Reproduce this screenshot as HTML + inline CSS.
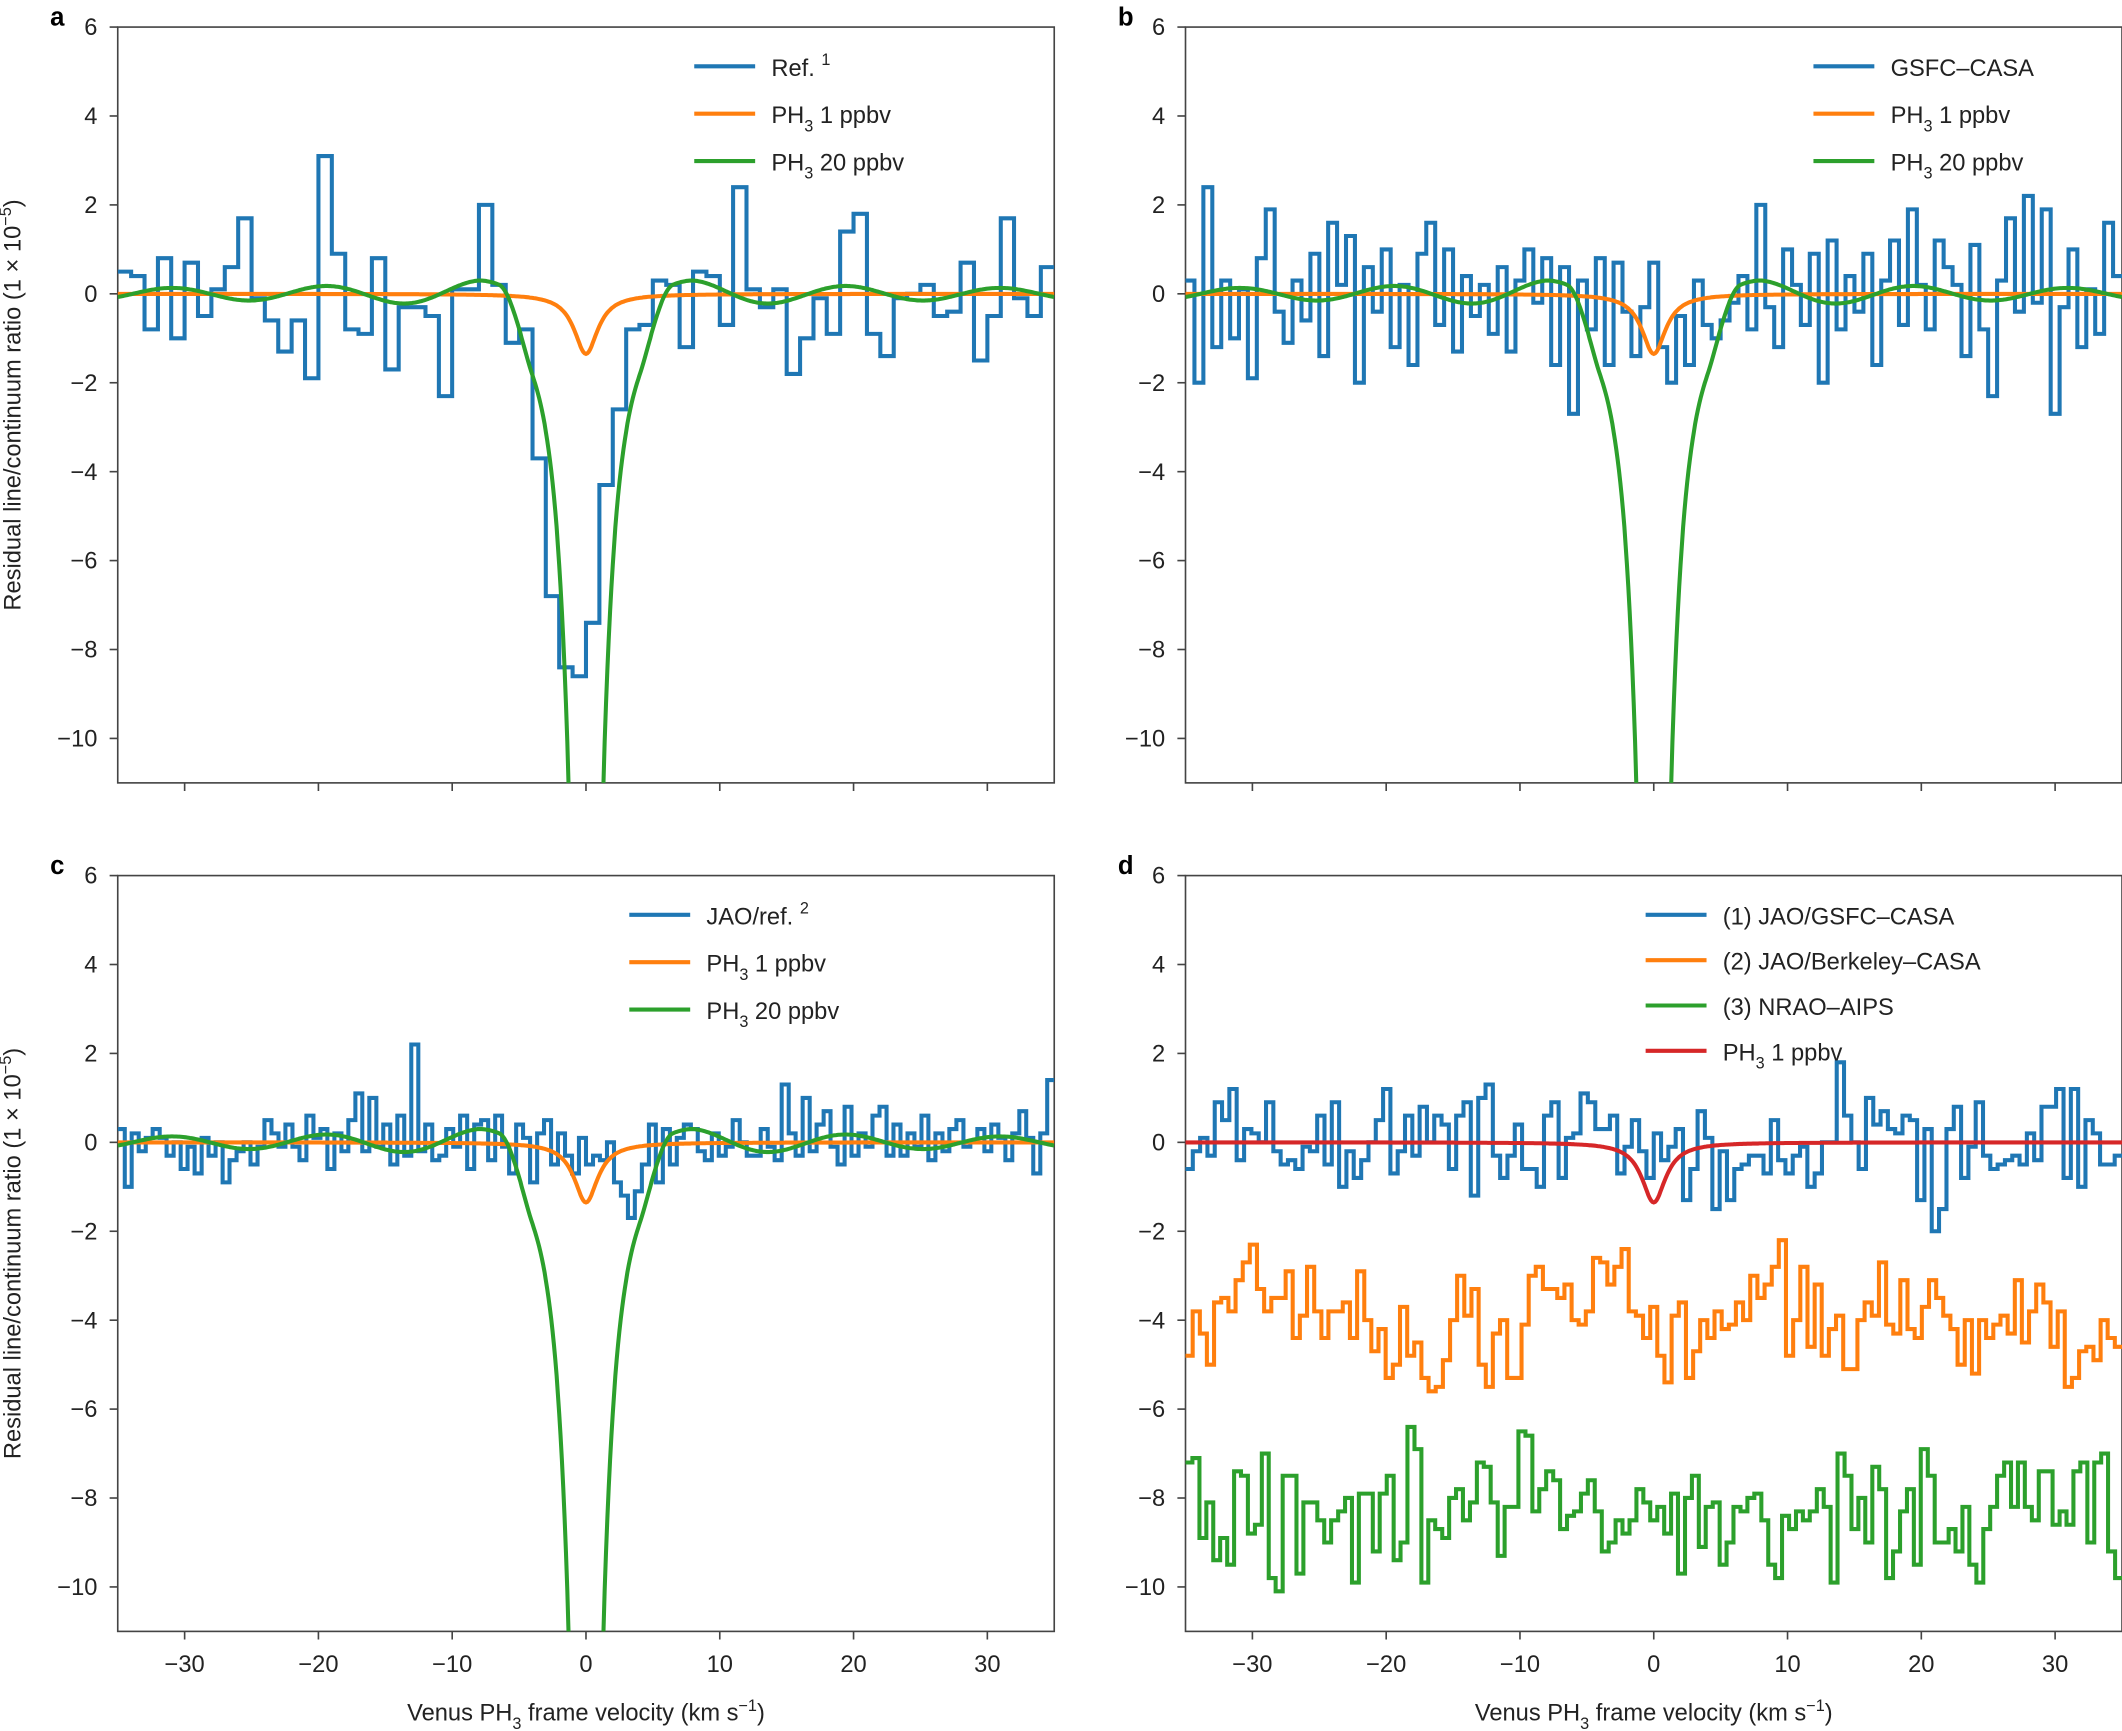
<!DOCTYPE html>
<html><head><meta charset="utf-8"><style>
html,body{margin:0;padding:0;background:#fff;}
svg{display:block;font-family:"Liberation Sans",Arial,sans-serif;}
</style></head><body>
<svg id="chart" width="2122" height="1731" viewBox="0 0 1568 1279.1" preserveAspectRatio="none" xmlns="http://www.w3.org/2000/svg"></svg>
<script>
// ---- data (km/s bins; residual line/continuum ratio ×1e-5) ----
const xTicks=[-30,-20,-10,0,10,20,30];
const yTicks=[6,4,2,0,-2,-4,-6,-8,-10];
const seriesA=[0.5,0.4,-0.8,0.8,-1.0,0.7,-0.5,0.1,0.6,1.7,-0.1,-0.6,-1.3,-0.6,-1.9,3.1,0.9,-0.8,-0.9,0.8,-1.7,-0.3,-0.3,-0.5,-2.3,0.1,0.1,2.0,0.2,-1.1,-0.8,-3.7,-6.8,-8.4,-8.6,-7.4,-4.3,-2.6,-0.8,-0.7,0.3,0.2,-1.2,0.5,0.4,-0.7,2.4,0.1,-0.3,0.1,-1.8,-1.0,-0.1,-0.9,1.4,1.8,-0.9,-1.4,-0.1,0.0,0.2,-0.5,-0.4,0.7,-1.5,-0.5,1.7,-0.1,-0.5,0.6];
const seriesB=[0.3,-2.0,2.4,-1.2,0.3,-1.0,0.1,-1.9,0.8,1.9,-0.4,-1.1,0.3,-0.6,0.9,-1.4,1.6,0.2,1.3,-2.0,0.6,-0.4,1.0,-1.2,0.2,-1.6,0.9,1.6,-0.7,1.0,-1.3,0.4,-0.5,0.2,-0.9,0.6,-1.3,0.3,1.0,-0.2,0.8,-1.6,0.6,-2.7,0.3,-0.8,0.8,-1.6,0.7,-0.4,-1.4,-0.3,0.7,-1.2,-2.0,-0.5,-1.6,0.3,-0.7,-1.0,-0.6,-0.2,0.4,-0.8,2.0,-0.3,-1.2,1.0,0.2,-0.7,0.9,-2.0,1.2,-0.8,0.4,-0.4,0.9,-1.6,0.3,1.2,-0.7,1.9,0.2,-0.8,1.2,0.6,0.2,-1.4,1.1,-0.8,-2.3,0.3,1.7,-0.4,2.2,-0.2,1.9,-2.7,-0.3,1.0,-1.2,0.1,-0.9,1.6,0.4];
const seriesC=[0.3,-1.0,0.2,-0.2,0.1,0.3,0.1,-0.3,0.0,-0.6,-0.1,-0.7,0.1,-0.3,0.0,-0.9,-0.4,-0.2,0.0,-0.5,-0.1,0.5,0.2,-0.1,0.4,-0.1,-0.4,0.6,0.1,0.3,-0.6,0.2,-0.2,0.5,1.1,-0.2,1.0,-0.1,0.4,-0.5,0.6,-0.3,2.2,-0.2,0.4,-0.4,-0.3,0.3,-0.1,0.6,-0.6,0.4,0.5,-0.4,0.6,-0.1,-0.7,0.4,0.1,-0.9,0.2,0.5,-0.5,0.2,-0.3,-0.7,0.1,-0.5,-0.3,-0.4,0.0,-0.9,-1.2,-1.7,-1.1,-0.5,0.4,-0.9,0.3,-0.5,0.1,0.4,0.3,-0.2,-0.4,0.2,-0.3,-0.1,0.5,0.0,-0.3,-0.3,0.3,-0.1,-0.4,1.3,0.2,-0.3,1.0,-0.2,0.4,0.7,-0.1,-0.5,0.8,-0.3,0.2,-0.1,0.6,0.8,-0.3,0.4,-0.3,0.2,-0.1,0.6,-0.4,0.2,-0.2,0.3,0.5,-0.1,0.0,0.3,-0.2,0.4,0.1,-0.4,0.2,0.7,0.1,-0.7,0.2,1.4];
const seriesD1=[-0.6,-0.2,0.1,-0.3,0.9,0.5,1.2,-0.4,0.3,0.2,0.0,0.9,-0.2,-0.5,-0.4,-0.6,-0.1,-0.2,0.6,-0.5,0.9,-1.0,-0.2,-0.8,-0.4,0.0,0.5,1.2,-0.7,-0.2,0.6,-0.3,0.8,0.0,0.6,0.4,-0.6,0.6,0.9,-1.2,1.0,1.3,-0.3,-0.8,-0.3,0.4,-0.6,-0.6,-1.0,0.6,0.9,-0.8,0.1,0.2,1.1,0.9,0.3,0.3,0.6,-0.7,-0.1,0.5,-0.2,-0.8,0.2,-0.4,-0.1,0.3,-1.3,-0.6,0.7,0.1,-1.5,-0.2,-1.3,-0.6,-0.5,-0.3,-0.3,-0.7,0.5,-0.4,-0.7,-0.3,-0.1,-1.0,-0.7,0.0,0.0,1.8,0.6,0.0,-0.6,1.0,0.4,0.7,0.3,0.2,0.6,0.5,-1.3,0.3,-2.0,-1.5,0.3,0.8,-0.8,-0.1,0.9,-0.3,-0.6,-0.5,-0.4,-0.3,-0.5,0.2,-0.4,0.8,0.8,1.2,-0.8,1.2,-1.0,0.5,0.2,-0.5,-0.5,-0.3];
const seriesD2=[-4.8,-3.8,-4.3,-5.0,-3.6,-3.5,-3.8,-3.1,-2.7,-2.3,-3.3,-3.8,-3.5,-3.5,-2.9,-4.4,-3.9,-2.8,-3.8,-4.4,-3.8,-3.8,-3.6,-4.4,-2.9,-4.0,-4.7,-4.2,-5.3,-5.0,-3.7,-4.8,-4.5,-5.3,-5.6,-5.5,-4.9,-4.0,-3.0,-3.9,-3.3,-5.0,-5.5,-4.3,-4.0,-5.3,-5.3,-4.1,-3.0,-2.8,-3.3,-3.3,-3.5,-3.2,-4.0,-4.1,-3.8,-2.6,-2.7,-3.2,-2.8,-2.4,-3.8,-3.9,-4.4,-3.7,-4.8,-5.4,-3.9,-3.6,-5.3,-4.7,-4.0,-4.4,-3.8,-4.2,-4.1,-3.6,-4.0,-3.0,-3.5,-3.2,-2.8,-2.2,-4.8,-4.0,-2.8,-4.6,-3.2,-4.8,-4.2,-3.9,-5.1,-5.1,-4.0,-3.6,-3.9,-2.7,-4.1,-4.3,-3.1,-4.2,-4.4,-3.7,-3.1,-3.5,-3.9,-4.2,-5.0,-4.0,-5.2,-4.0,-4.4,-4.1,-3.9,-4.3,-3.1,-4.5,-3.8,-3.2,-3.6,-4.6,-3.8,-5.5,-5.3,-4.7,-4.6,-4.9,-4.0,-4.4,-4.6];
const seriesD3=[-7.2,-7.1,-8.9,-8.1,-9.4,-8.9,-9.5,-7.4,-7.5,-8.8,-8.6,-7.0,-9.8,-10.1,-7.5,-7.5,-9.7,-8.1,-8.1,-8.5,-9.0,-8.5,-8.3,-8.0,-9.9,-7.9,-7.9,-9.2,-7.9,-7.5,-9.4,-9.0,-6.4,-6.9,-9.9,-8.5,-8.7,-8.9,-8.0,-7.8,-8.5,-8.1,-7.2,-7.3,-8.1,-9.3,-8.2,-8.2,-6.5,-6.6,-8.3,-7.8,-7.4,-7.6,-8.7,-8.4,-8.3,-7.9,-7.6,-8.3,-9.2,-9.0,-8.5,-8.8,-8.5,-7.8,-8.1,-8.5,-8.2,-8.8,-7.9,-9.7,-8.0,-7.5,-9.1,-8.2,-8.1,-9.5,-9.0,-8.2,-8.3,-8.0,-7.9,-8.5,-9.5,-9.8,-8.4,-8.7,-8.3,-8.5,-8.3,-7.8,-8.2,-9.9,-7.0,-7.5,-8.7,-8.0,-9.0,-7.3,-7.8,-9.8,-9.2,-8.3,-7.8,-9.5,-6.9,-7.5,-9.0,-9.0,-8.7,-9.2,-8.2,-9.5,-9.9,-8.7,-8.2,-7.5,-7.2,-8.2,-7.2,-8.2,-8.5,-7.4,-7.4,-8.6,-8.3,-8.6,-7.4,-7.2,-9.0,-7.2,-7.0,-9.2,-9.8];
const modelDepth=[1.35,27]; // PH3 1 ppbv, 20 ppbv
const modelWidth=[1.08,1.08];
const rippleAmp=[0.0,0.3];

const NS='http://www.w3.org/2000/svg';
const svg=document.getElementById('chart');
const C={blue:'#1f77b4',orange:'#ff7f0e',green:'#2ca02c',red:'#d62728'};
function el(tag,attrs,parent){const e=document.createElementNS(NS,tag);for(const k in attrs)e.setAttribute(k,attrs[k]);(parent||svg).appendChild(e);return e;}

function model(v,i){
  const w=modelWidth[i];let y=-modelDepth[i]*w*w/(v*v+w*w);
  const av=Math.abs(v);
  if(rippleAmp[i]>0&&av>4){
    let s=Math.min(1,(av-4)/2.5);s=s*s*(3-2*s);
    const R=rippleAmp[i]*Math.cos(2*Math.PI*(av-8)/11.5)*Math.pow(8/Math.max(av,8),0.6);
    y=y*(1-s)+s*R;
  }
  return y;
}

function panel(o){
  const g=el('g',{});
  
  
  const L=o.x0,R=o.x0+692,T=o.y0,B=o.y0+558.5;
  const X=v=>L+(v+35)/70*(R-L);
  const Y=v=>T+(6-v)/17*(B-T);
  const cp=el('clipPath',{id:'clip'+o.letter},g);el('rect',{x:L,y:T,width:R-L,height:B-T},cp);
  const frame=el('rect',{x:L,y:T,width:R-L,height:B-T,fill:'none',stroke:'#444','stroke-width':1.2},g);
  
  const lt=el('text',{x:L-50,y:T-1,'font-size':19,'font-weight':'bold'},g);lt.textContent=o.letter;
  
  yTicks.forEach(t=>{el('line',{x1:L-6,x2:L,y1:Y(t),y2:Y(t),stroke:'#444','stroke-width':1.2},g);
    const tx=el('text',{x:L-15,y:Y(t)+6,'font-size':17.5,'text-anchor':'end',fill:'#222'},g);tx.textContent=(t<0?'\u2212'+(-t):t);
    });
  xTicks.forEach(t=>{el('line',{x1:X(t),x2:X(t),y1:B,y2:B+6,stroke:'#444','stroke-width':1.2},g);
    if(o.xlabels){const tx=el('text',{x:X(t),y:B+30,'font-size':17.5,'text-anchor':'middle',fill:'#222'},g);tx.textContent=(t<0?'\u2212'+(-t):t);
    }});
  if(o.ytitle){const yt=el('text',{transform:`translate(${L-72},${(T+B)/2}) rotate(-90)`,'font-size':17.5,'text-anchor':'middle',fill:'#222'},g);
    yt.innerHTML='Residual line/continuum ratio (1 × 10<tspan dy="-7" font-size="12">−5</tspan><tspan dy="7">)</tspan>';
    }
  if(o.xlabels){const xt=el('text',{x:(L+R)/2,y:B+66,'font-size':17.5,'text-anchor':'middle',fill:'#222'},g);
    xt.innerHTML='Venus PH<tspan dy="6" font-size="12">3</tspan><tspan dy="-6"> frame velocity (km s</tspan><tspan dy="-7" font-size="12">−1</tspan><tspan dy="7">)</tspan>';
    }
  const pg=el('g',{'clip-path':`url(#clip${o.letter})`},g);
  o.steps.forEach(s=>{
    const n=s.data.length,bw=70/n;let d='';
    s.data.forEach((v,i)=>{const x1=X(-35+i*bw),x2=X(-35+(i+1)*bw),y=Y(v);d+=(i?'L':'M')+x1.toFixed(1)+','+y.toFixed(1)+'L'+x2.toFixed(1)+','+y.toFixed(1);});
    const p=el('path',{d,fill:'none',stroke:s.color,'stroke-width':3,'stroke-linejoin':'miter'},pg);
    });
  o.models.forEach(m=>{
    let d='';for(let v=-35;v<=35.001;v+=0.1){d+=(d?'L':'M')+X(v).toFixed(1)+','+Y(Math.max(model(v,m.i),-13)).toFixed(1);}
    const p=el('path',{d,fill:'none',stroke:m.color,'stroke-width':3},pg);
    });
  o.legend.forEach((it,k)=>{
    const y=T+29+k*o.lgap;
    const lg=el('g',{},g);
    el('line',{x1:o.lx,x2:o.lx+45,y1:y,y2:y,stroke:it.c,'stroke-width':3},lg);
    const t=el('text',{x:o.lx+57,y:y+7,'font-size':17.5,fill:'#222'},lg);t.innerHTML=it.t;});
}
const PH1='PH<tspan dy="6" font-size="12">3</tspan><tspan dy="-6"> 1 ppbv</tspan>';
const PH20='PH<tspan dy="6" font-size="12">3</tspan><tspan dy="-6"> 20 ppbv</tspan>';
panel({letter:'a',x0:87,y0:20,ytitle:true,xlabels:false,lx:513,lgap:35,
  steps:[{data:seriesA,color:C.blue,name:'ref1-spectrum'}],
  models:[{i:0,color:C.orange,name:'ph3-1ppbv-model'},{i:1,color:C.green,name:'ph3-20ppbv-model'}],
  legend:[{c:C.blue,t:'Ref. <tspan dy="-8" font-size="12">1</tspan>'},{c:C.orange,t:PH1},{c:C.green,t:PH20}]});
panel({letter:'b',x0:876,y0:20,ytitle:false,xlabels:false,lx:1340,lgap:35,
  steps:[{data:seriesB,color:C.blue,name:'gsfc-casa-spectrum'}],
  models:[{i:0,color:C.orange,name:'ph3-1ppbv-model'},{i:1,color:C.green,name:'ph3-20ppbv-model'}],
  legend:[{c:C.blue,t:'GSFC–CASA'},{c:C.orange,t:PH1},{c:C.green,t:PH20}]});
panel({letter:'c',x0:87,y0:647,ytitle:true,xlabels:true,lx:465,lgap:35,
  steps:[{data:seriesC,color:C.blue,name:'jao-ref2-spectrum'}],
  models:[{i:0,color:C.orange,name:'ph3-1ppbv-model'},{i:1,color:C.green,name:'ph3-20ppbv-model'}],
  legend:[{c:C.blue,t:'JAO/ref. <tspan dy="-8" font-size="12">2</tspan>'},{c:C.orange,t:PH1},{c:C.green,t:PH20}]});
panel({letter:'d',x0:876,y0:647,ytitle:false,xlabels:true,lx:1216,lgap:33.5,
  steps:[{data:seriesD1,color:C.blue,name:'jao-gsfc-casa-spectrum'},{data:seriesD2,color:C.orange,name:'jao-berkeley-casa-spectrum'},{data:seriesD3,color:C.green,name:'nrao-aips-spectrum'}],
  models:[{i:0,color:C.red,name:'ph3-1ppbv-model'}],
  legend:[{c:C.blue,t:'(1) JAO/GSFC–CASA'},{c:C.orange,t:'(2) JAO/Berkeley–CASA'},{c:C.green,t:'(3) NRAO–AIPS'},{c:C.red,t:PH1}]});
</script>
</body></html>
